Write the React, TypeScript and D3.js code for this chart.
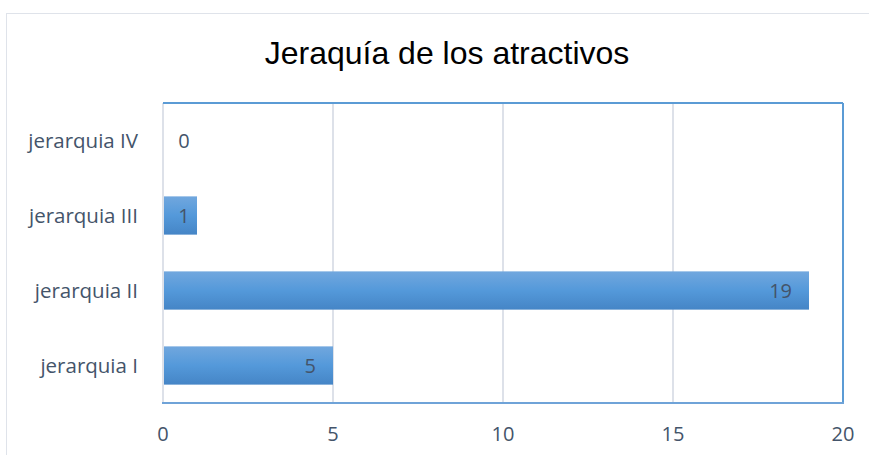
import React from "react";
import * as d3 from "d3";

const categories = ["jerarquia IV", "jerarquia III", "jerarquia II", "jerarquia I"];
const values = [0, 1, 19, 5];
const xTicks = [0, 5, 10, 15, 20];
const title = "Jeraquía de los atractivos";

export default function App() {
  const W = 869, H = 455;
  const left = 163, right = 843, top = 103, bottom = 403;
  const x = d3.scaleLinear().domain([0, 20]).range([left, right]);
  const y = d3.scaleBand().domain(categories).range([top, bottom]).paddingInner(0.49).paddingOuter(0.245);
  const textColor = "#44546a";
  const font = "'Open Sans', sans-serif";
  return (
    <svg width={W} height={H} style={{ position: "absolute", left: 0, top: 0, background: "#fff" }}>
      <defs>
        <linearGradient id="barGrad" x1="0" y1="0" x2="0" y2="1">
          <stop offset="0" stopColor="#71a7de" />
          <stop offset="0.5" stopColor="#5499da" />
          <stop offset="1" stopColor="#4585c6" />
        </linearGradient>
      </defs>
      <rect x={6.5} y={13.5} width={900} height={500} fill="#fff" stroke="#dfe3ea" strokeWidth={1} />
      <text x={447} y={64} textAnchor="middle" fontFamily="'Liberation Sans', Arial, sans-serif" fontSize={32} fill="#000">
        {title}
      </text>
      {xTicks.map((t) => (
        <line key={"g" + t} x1={x(t)} x2={x(t)} y1={top} y2={bottom} stroke="#dde1e9" strokeWidth={2} />
      ))}
      <line x1={left} x2={right} y1={top} y2={top} stroke="#5b9bd5" strokeWidth={2} />
      <line x1={right} x2={right} y1={top} y2={bottom} stroke="#5b9bd5" strokeWidth={2} />
      <line x1={left - 1} x2={right + 1} y1={bottom} y2={bottom} stroke="#6fa3d8" strokeWidth={2} />
      {categories.map((c, i) => {
        const v = values[i];
        const yy = y(c)!;
        const bw = x(v) - x(0);
        const cy = yy + y.bandwidth() / 2;
        const small = bw < 40;
        return (
          <g key={c}>
            {v > 0 && <rect x={x(0) + 1} y={yy} width={bw - 1} height={y.bandwidth()} fill="url(#barGrad)" />}
            <text
              x={small ? x(0) + 21 : x(v) - 17}
              y={cy}
              dy="0.35em"
              textAnchor={small ? "middle" : "end"}
              fontFamily={font}
              fontSize={20}
              fill={textColor}
            >
              {v}
            </text>
            <text x={138} y={cy} dy="0.35em" textAnchor="end" fontFamily={font} fontSize={20.5} fill={textColor}>
              {c}
            </text>
          </g>
        );
      })}
      {xTicks.map((t) => (
        <text key={"t" + t} x={x(t)} y={434} dy="0.35em" textAnchor="middle" fontFamily={font} fontSize={20} fill={textColor}>
          {t}
        </text>
      ))}
    </svg>
  );
}
